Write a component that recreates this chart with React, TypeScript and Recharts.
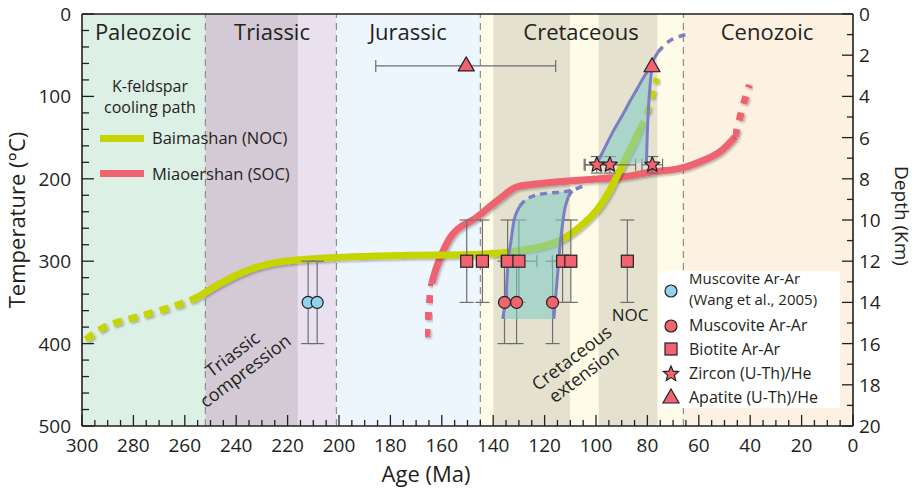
import React from 'react';
import {
  ComposedChart, XAxis, YAxis, Line, Area, Scatter, ErrorBar, ReferenceArea, ReferenceLine,
} from 'recharts';

// ---------------- data ----------------
const ageTicks = Array.from({ length: 61 }, (_, i) => i * 5);
const tempTicks = Array.from({ length: 26 }, (_, i) => i * 20);
const depthTicks = Array.from({ length: 21 }, (_, i) => i);

const eraNames = ['Paleozoic', 'Triassic', 'Jurassic', 'Cretaceous', 'Cenozoic'];
const eraBoundaries = [252, 201, 145, 66];
const eraBands = [
  { from: 300, to: 252, kind: 'paleozoic' },
  { from: 252, to: 216, kind: 'triassicA' },
  { from: 216, to: 201, kind: 'triassicB' },
  { from: 201, to: 145, kind: 'jurassic' },
  { from: 145, to: 140, kind: 'cretLight' },
  { from: 140, to: 110, kind: 'cretDark' },
  { from: 110, to: 99, kind: 'cretLight' },
  { from: 99, to: 76, kind: 'cretDark' },
  { from: 76, to: 66, kind: 'cretLight' },
  { from: 66, to: 0, kind: 'cenozoic' },
];

// K-feldspar cooling path, Baimashan (NOC)
const greenDotted = [
  { x: 298.5, y: 395 }, { x: 292, y: 381 }, { x: 285, y: 373 }, { x: 272, y: 362 },
  { x: 260, y: 350 }, { x: 254.7, y: 343 },
];
const greenSolid = [
  { x: 254.7, y: 343 }, { x: 246.3, y: 327 }, { x: 237.2, y: 313 }, { x: 226.8, y: 303 },
  { x: 213.9, y: 298 }, { x: 194.4, y: 294.7 }, { x: 175, y: 293 }, { x: 157, y: 292.5 },
  { x: 145, y: 291.5 }, { x: 135, y: 289.5 }, { x: 128, y: 286 }, { x: 121.8, y: 282.6 },
  { x: 114, y: 274.5 }, { x: 106.2, y: 258 }, { x: 99.7, y: 238 }, { x: 94.6, y: 213.7 },
  { x: 90.7, y: 189.5 }, { x: 86.8, y: 165 }, { x: 82.9, y: 139 },
];
const greenDashed = [
  { x: 82.9, y: 139 }, { x: 80.5, y: 122 }, { x: 78.8, y: 104 }, { x: 77.3, y: 88 }, { x: 76.3, y: 78 },
];

// K-feldspar cooling path, Miaoershan (SOC)
const redDottedOld = [
  { x: 166, y: 392 }, { x: 165.2, y: 365 }, { x: 164.6, y: 343 }, { x: 163.9, y: 327 },
];
const redSolid = [
  { x: 163.9, y: 327 }, { x: 162, y: 307 }, { x: 159.4, y: 287 }, { x: 156, y: 268 },
  { x: 152, y: 257 }, { x: 147, y: 248 }, { x: 143, y: 238 }, { x: 139, y: 228 },
  { x: 135, y: 218 }, { x: 130.9, y: 210 }, { x: 125, y: 207 }, { x: 117.9, y: 204.5 },
  { x: 102.3, y: 200.8 }, { x: 89.4, y: 197.6 }, { x: 79, y: 192 }, { x: 71.2, y: 189.5 },
  { x: 65, y: 185.5 }, { x: 59.5, y: 179.3 }, { x: 51.8, y: 167.2 }, { x: 45.9, y: 149 },
];
const redDottedYoung = [
  { x: 45.9, y: 149 }, { x: 44.6, y: 133 }, { x: 42.7, y: 110.5 }, { x: 40.3, y: 86 },
];

// Thermal-history envelopes
const envLowLeft = [
  { x: 136.3, y: 370 }, { x: 135, y: 340 }, { x: 134.2, y: 300 }, { x: 133.3, y: 280 },
  { x: 132.3, y: 258 }, { x: 131.2, y: 243 }, { x: 129.6, y: 233 },
];
const envLowRight = [
  { x: 116.4, y: 370 }, { x: 115.6, y: 340 }, { x: 114.5, y: 300 }, { x: 113.8, y: 275 },
  { x: 112.6, y: 245 }, { x: 111.8, y: 232 }, { x: 110.8, y: 222 },
];
const envLowTop = [
  { x: 129.6, y: 233 }, { x: 127.5, y: 226 }, { x: 124.5, y: 221 }, { x: 120, y: 218 },
  { x: 115, y: 216.5 }, { x: 111, y: 215 }, { x: 108.5, y: 213 }, { x: 106, y: 210 }, { x: 103.5, y: 207.5 },
];
const envLowRightTop = [
  { x: 110.8, y: 222 }, { x: 109.6, y: 216 }, { x: 108.5, y: 213 },
];
const envLowFill = [
  { x: 136.3, r: [370, 370] }, { x: 135.6, r: [370, 355] }, { x: 135, r: [370, 340] },
  { x: 134.2, r: [370, 300] }, { x: 133.3, r: [370, 280] }, { x: 132.3, r: [370, 258] },
  { x: 131.2, r: [370, 243] }, { x: 129.6, r: [370, 233] }, { x: 127.5, r: [370, 226] },
  { x: 124.5, r: [370, 221] }, { x: 120, r: [370, 218] }, { x: 116.4, r: [370, 216.7] },
  { x: 115.6, r: [340, 216.4] }, { x: 114.5, r: [300, 216] }, { x: 113.8, r: [275, 215.7] },
  { x: 112.6, r: [245, 215.4] }, { x: 111.8, r: [232, 215.2] }, { x: 110.8, r: [222, 215] },
  { x: 109.6, r: [216, 214] }, { x: 108.8, r: [213.5, 213.5] },
];

const envUpLeft = [
  { x: 99.9, y: 183 }, { x: 97, y: 165 }, { x: 94.6, y: 150 }, { x: 92, y: 135 },
  { x: 89.4, y: 121 }, { x: 86.8, y: 106 }, { x: 84.2, y: 92 }, { x: 81.5, y: 77 },
  { x: 79.2, y: 66 }, { x: 77.5, y: 55 }, { x: 75.8, y: 46 },
];
const envUpLeftDashed = [
  { x: 75.8, y: 46 }, { x: 73.5, y: 38 }, { x: 70.5, y: 31 }, { x: 67.3, y: 27 }, { x: 63.4, y: 23.5 },
];
const envUpRight = [
  { x: 80.4, y: 183 }, { x: 80.1, y: 150 }, { x: 79.6, y: 115 }, { x: 79, y: 88 }, { x: 78.3, y: 66 },
];
const envUpFill = [
  { x: 99.7, r: [181, 181] }, { x: 97, r: [181, 165] }, { x: 94.6, r: [181, 150] },
  { x: 92, r: [181, 135] }, { x: 89.4, r: [181, 121] }, { x: 86.8, r: [181, 106] },
  { x: 84.2, r: [181, 92] }, { x: 82, r: [181, 80] }, { x: 80.4, r: [181, 72] },
  { x: 80.1, r: [150, 70] }, { x: 79.6, r: [115, 68] }, { x: 79, r: [88, 66.5] }, { x: 78.3, r: [66, 66] },
];

// Thermochronology samples
const muscoviteWang = [
  { x: 212, y: 350, ey: 50 }, { x: 208.5, y: 350, ey: 50 },
];
const muscovite = [
  { x: 135.6, y: 350, ey: 50 }, { x: 130.9, y: 350, ey: 50 }, { x: 116.9, y: 350, ey: 50 },
];
const biotite = [
  { x: 150.3, y: 300, ey: 50, ex: 0 }, { x: 144.2, y: 300, ey: 50, ex: 0 },
  { x: 134.4, y: 300, ey: 50, ex: 0 }, { x: 130, y: 300, ey: 50, ex: 7 },
  { x: 113, y: 300, ey: 50, ex: 4 }, { x: 109.8, y: 300, ey: 50, ex: 0 },
  { x: 87.8, y: 300, ey: 50, ex: 0 },
];
const zircon = [
  { x: 99.7, y: 183, ey: 10, ex: 4.5 }, { x: 94.6, y: 183, ey: 10, ex: 10 }, { x: 78.1, y: 183, ey: 10, ex: 4 },
];
const apatite = [
  { x: 150.5, y: 63, ex: [34.8, 35.2] }, { x: 78.2, y: 64, ex: [0, 0] },
];

// ---------------- styles ----------------
const FONT = '"Open Sans", "DejaVu Sans", sans-serif';
const INK = '#231f20';
const GREEN = '#c6d400';
const RED = '#ef6470';
const PURPLE = '#7b7ec2';
const TEAL = '#7ecbc6';
const ERR = '#6d6e71';
const BLUE = '#8fd3ef';
const bandFill: Record<string, string> = {
  paleozoic: '#dcf0e6', triassicA: '#d4cad6', triassicB: '#e9e1ef', jurassic: '#eef6fd',
  cretLight: '#fefce6', cretDark: '#e4e2cf', cenozoic: '#fdf1e1',
};

const W = 917;
const H = 489;

// ---------------- marker shapes ----------------
const circleShape = (fill: string) => (p: any) => (
  <circle cx={p.cx} cy={p.cy} r={6} fill={fill} stroke={INK} strokeWidth={1.2} />
);
const squareShape = (p: any) => (
  <rect x={p.cx - 6} y={p.cy - 6} width={12} height={12} fill={RED} stroke={INK} strokeWidth={1.2} />
);
const starPath = (cx: number, cy: number, R: number, r: number) => {
  const pts: string[] = [];
  for (let i = 0; i < 10; i++) {
    const a = -Math.PI / 2 + (i * Math.PI) / 5;
    const rad = i % 2 === 0 ? R : r;
    pts.push(`${(cx + rad * Math.cos(a)).toFixed(2)},${(cy + rad * Math.sin(a)).toFixed(2)}`);
  }
  return `M${pts.join('L')}Z`;
};
const starShape = (p: any) => (
  <path d={starPath(p.cx, p.cy, 8, 3.6)} fill={RED} stroke={INK} strokeWidth={1.2} strokeLinejoin="round" />
);
const triPath = (cx: number, cy: number) => `M${cx},${cy - 9}L${cx + 8},${cy + 5}L${cx - 8},${cy + 5}Z`;
const triShape = (p: any) => (
  <path d={triPath(p.cx, p.cy)} fill={RED} stroke={INK} strokeWidth={1.2} strokeLinejoin="round" />
);

// ---------------- ticks ----------------
const XTick = (p: any) => {
  const { x, y, payload } = p;
  const v = payload.value;
  const major = v % 20 === 0;
  return (
    <g>
      <line x1={x} x2={x} y1={y} y2={y - (major ? 11 : 6)} stroke={INK} strokeWidth={1.3} />
      {major && (
        <text x={x} y={y + 26} textAnchor="middle" fontSize={19} fontFamily={FONT} fill={INK}>{v}</text>
      )}
    </g>
  );
};
const TempTick = (p: any) => {
  const { x, y, payload } = p;
  const v = payload.value;
  const major = v % 100 === 0;
  return (
    <g>
      <line x1={x} x2={x + (major ? 12 : 7)} y1={y} y2={y} stroke={INK} strokeWidth={1.3} />
      {major && (
        <text x={x - 11} y={y + 7} textAnchor="end" fontSize={19} fontFamily={FONT} fill={INK}>{v}</text>
      )}
    </g>
  );
};
const DepthTick = (p: any) => {
  const { x, y, payload } = p;
  const v = payload.value;
  const major = v % 2 === 0;
  return (
    <g>
      <line x1={x} x2={x - (major ? 11 : 6)} y1={y} y2={y} stroke={INK} strokeWidth={1.3} />
      {major && (
        <text x={x + 6} y={y + 7} textAnchor="start" fontSize={19} fontFamily={FONT} fill={INK}>{v}</text>
      )}
    </g>
  );
};

const lineCommon = {
  yAxisId: 'temp', dataKey: 'y', type: 'natural' as const, dot: false, activeDot: false,
  isAnimationActive: false, legendType: 'none' as const,
};

export default function App() {
  const labelX = [143, 272, 408, 581, 767];
  return (
    <div style={{ position: 'absolute', left: 0, top: 0, width: W, height: H, background: '#fff' }}>
      <svg width={0} height={0} style={{ position: 'absolute' }}>
        <defs>
          <filter id="shadow" x="-10%" y="-10%" width="130%" height="130%">
            <feDropShadow dx="1.5" dy="1.5" stdDeviation="1.2" floodColor="#000" floodOpacity="0.3" />
          </filter>
        </defs>
      </svg>
      <ComposedChart width={W} height={H} margin={{ top: 14, right: 0, bottom: 0, left: 0 }}>
        <XAxis
          xAxisId={0} dataKey="x" type="number" domain={[0, 300]} reversed allowDataOverflow
          ticks={ageTicks} interval={0} tickLine={false} tickSize={0} tickMargin={0}
          tick={<XTick />} height={63} axisLine={{ stroke: INK, strokeWidth: 1.6 }}
        />
        <YAxis
          yAxisId="temp" type="number" domain={[0, 500]} reversed allowDataOverflow
          ticks={tempTicks} interval={0} tickLine={false} tickSize={0} tickMargin={0}
          tick={<TempTick />} width={82} axisLine={{ stroke: INK, strokeWidth: 1.6 }}
        />
        <YAxis
          yAxisId="depth" orientation="right" type="number" domain={[0, 20]} reversed allowDataOverflow
          ticks={depthTicks} interval={0} tickLine={false} tickSize={0} tickMargin={0}
          tick={<DepthTick />} width={64} axisLine={{ stroke: INK, strokeWidth: 1.6 }}
        />

        {eraBands.map((b, i) => (
          <ReferenceArea key={`b${i}`} yAxisId="temp" x1={b.from} x2={b.to} y1={0} y2={500}
            fill={bandFill[b.kind]} fillOpacity={1} stroke="none" ifOverflow="visible" />
        ))}
        {eraBoundaries.map((a) => (
          <ReferenceLine key={`l${a}`} yAxisId="temp" x={a} stroke="#8c8c8c" strokeWidth={1.2}
            strokeDasharray="7 5" />
        ))}
        <ReferenceLine yAxisId="temp" y={0} stroke={INK} strokeWidth={1.6} />

        <Line {...lineCommon} data={redDottedOld} stroke={RED} strokeWidth={7} strokeDasharray="8 9" filter="url(#shadow)" />
        <Line {...lineCommon} data={redSolid} stroke={RED} strokeWidth={7} filter="url(#shadow)" />
        <Line {...lineCommon} data={redDottedYoung} stroke={RED} strokeWidth={7} strokeDasharray="8 9" filter="url(#shadow)" />
        <Line {...lineCommon} data={greenDotted} stroke={GREEN} strokeWidth={7} strokeDasharray="9 7" filter="url(#shadow)" />
        <Line {...lineCommon} data={greenSolid} stroke={GREEN} strokeWidth={7} filter="url(#shadow)" />
        <Line {...lineCommon} data={greenDashed} stroke={GREEN} strokeWidth={6} strokeDasharray="8 8" filter="url(#shadow)" />

        <Area yAxisId="temp" data={envLowFill} dataKey="r" type="linear" stroke="none" fill={TEAL}
          fillOpacity={0.55} isAnimationActive={false} legendType="none" activeDot={false} zIndex={450} />
        <Area yAxisId="temp" data={envUpFill} dataKey="r" type="linear" stroke="none" fill={TEAL}
          fillOpacity={0.55} isAnimationActive={false} legendType="none" activeDot={false} zIndex={450} />

        <Line {...lineCommon} data={envLowLeft} stroke={PURPLE} strokeWidth={3} zIndex={460} />
        <Line {...lineCommon} data={envLowRight} stroke={PURPLE} strokeWidth={3} zIndex={460} />
        <Line {...lineCommon} data={envLowTop} stroke={PURPLE} strokeWidth={3.5} strokeDasharray="7 5" zIndex={460} />
        <Line {...lineCommon} data={envLowRightTop} stroke={PURPLE} strokeWidth={3.5} strokeDasharray="7 5" zIndex={460} />
        <Line {...lineCommon} data={envUpLeft} stroke={PURPLE} strokeWidth={3} zIndex={460} />
        <Line {...lineCommon} data={envUpLeftDashed} stroke={PURPLE} strokeWidth={3.5} strokeDasharray="7 6" zIndex={460} />
        <Line {...lineCommon} data={envUpRight} stroke={PURPLE} strokeWidth={3} zIndex={460} />

        <Scatter yAxisId="temp" data={muscoviteWang} dataKey="y" shape={circleShape(BLUE)} isAnimationActive={false} legendType="none">
          <ErrorBar dataKey="ey" direction="y" width={7} stroke={ERR} strokeWidth={1.2} />
        </Scatter>
        <Scatter yAxisId="temp" data={biotite} dataKey="y" shape={squareShape} isAnimationActive={false} legendType="none">
          <ErrorBar dataKey="ey" direction="y" width={7} stroke={ERR} strokeWidth={1.2} />
          <ErrorBar dataKey="ex" direction="x" width={6} stroke={ERR} strokeWidth={1.2} />
        </Scatter>
        <Scatter yAxisId="temp" data={muscovite} dataKey="y" shape={circleShape(RED)} isAnimationActive={false} legendType="none">
          <ErrorBar dataKey="ey" direction="y" width={7} stroke={ERR} strokeWidth={1.2} />
        </Scatter>
        <Scatter yAxisId="temp" data={zircon} dataKey="y" shape={starShape} isAnimationActive={false} legendType="none">
          <ErrorBar dataKey="ey" direction="y" width={6} stroke={ERR} strokeWidth={1.2} />
          <ErrorBar dataKey="ex" direction="x" width={6} stroke={ERR} strokeWidth={1.2} />
        </Scatter>
        <Scatter yAxisId="temp" data={apatite} dataKey="y" shape={triShape} isAnimationActive={false} legendType="none">
          <ErrorBar dataKey="ex" direction="x" width={6} stroke={ERR} strokeWidth={1.2} />
        </Scatter>
      </ComposedChart>

      <svg width={W} height={H} style={{ position: 'absolute', left: 0, top: 0, pointerEvents: 'none' }}
        fontFamily={FONT} fill={INK}>
        {eraNames.map((n, i) => (
          <text key={n} x={labelX[i]} y={40} textAnchor="middle" fontSize={22}>{n}</text>
        ))}
        {/* K-feldspar legend */}
        <text x={150} y={92} textAnchor="middle" fontSize={16}>K-feldspar</text>
        <text x={150} y={113} textAnchor="middle" fontSize={16}>cooling path</text>
        <rect x={100} y={135} width={44} height={7} fill={GREEN} />
        <text x={152} y={144} fontSize={16.5}>Baimashan (NOC)</text>
        <rect x={100} y={170} width={44} height={7} fill={RED} />
        <text x={152} y={180} fontSize={16.5}>Miaoershan (SOC)</text>

        {/* annotations */}
        <g transform="translate(243,368) rotate(-37)">
          <text x={0} y={-11} textAnchor="middle" fontSize={18}>Triassic</text>
          <text x={0} y={10} textAnchor="middle" fontSize={18}>compression</text>
        </g>
        <g transform="translate(581.5,371) rotate(-37)">
          <text x={0} y={-10} textAnchor="middle" fontSize={18}>Cretaceous</text>
          <text x={0} y={10} textAnchor="middle" fontSize={18}>extension</text>
        </g>
        <text x={630} y={321} textAnchor="middle" fontSize={17}>NOC</text>

        {/* sample legend */}
        <rect x={660} y={271} width={180} height={137} fill="#ffffff" />
        <circle cx={671} cy={291} r={6} fill={BLUE} stroke={INK} strokeWidth={1.2} />
        <text x={689} y={284} fontSize={15}>Muscovite Ar-Ar</text>
        <text x={689} y={305} fontSize={15}>(Wang et al., 2005)</text>
        <circle cx={671} cy={326} r={6} fill={RED} stroke={INK} strokeWidth={1.2} />
        <text x={689} y={331} fontSize={16}>Muscovite Ar-Ar</text>
        <rect x={665} y={343} width={12} height={12} fill={RED} stroke={INK} strokeWidth={1.2} />
        <text x={689} y={355} fontSize={16}>Biotite Ar-Ar</text>
        <path d={starPath(671, 374, 8, 3.6)} fill={RED} stroke={INK} strokeWidth={1.2} />
        <text x={689} y={379} fontSize={16}>Zircon (U-Th)/He</text>
        <path d={triPath(671, 398)} fill={RED} stroke={INK} strokeWidth={1.2} />
        <text x={689} y={403} fontSize={16}>Apatite (U-Th)/He</text>

        {/* axis titles */}
        <text transform="translate(25,220) rotate(-90)" textAnchor="middle" fontSize={22}>Temperature (°C)</text>
        <text x={426} y={482} textAnchor="middle" fontSize={22}>Age (Ma)</text>
        <text transform="translate(895,216) rotate(90)" textAnchor="middle" fontSize={19}>Depth (Km)</text>
      </svg>
    </div>
  );
}
